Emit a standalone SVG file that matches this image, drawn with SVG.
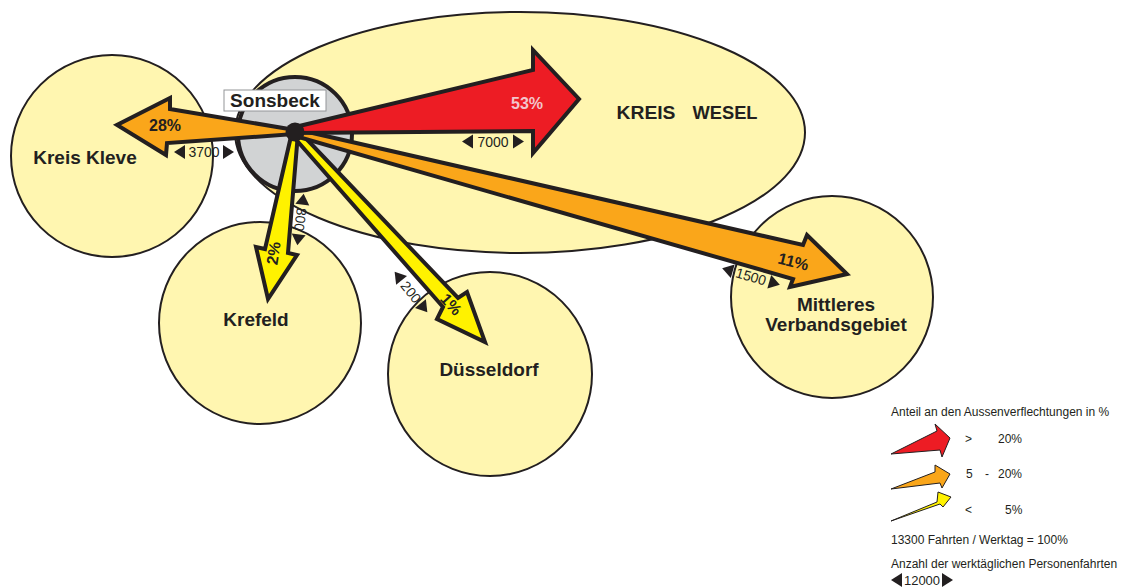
<svg xmlns="http://www.w3.org/2000/svg" xmlns:xlink="http://www.w3.org/1999/xlink" width="1127" height="587" viewBox="0 0 1127 587">
<style>
.region{fill:#fff6b0;stroke:#231f20;stroke-width:2}
.arrow{stroke:#231f20;stroke-width:4;stroke-linejoin:miter;stroke-miterlimit:10}
.larrow{stroke:#231f20;stroke-width:1;stroke-linejoin:miter}
.red{fill:#ed1c24}
.orange{fill:#faa61a}
.yellow{fill:#fff200}
.name{font-family:"Liberation Sans",Arial,sans-serif;font-weight:bold;font-size:19px;fill:#231f20;text-anchor:middle}
.pct{font-family:"Liberation Sans",Arial,sans-serif;font-weight:bold;font-size:16px;fill:#231f20;text-anchor:middle}
.dim{font-family:"Liberation Sans",Arial,sans-serif;font-size:14px;fill:#231f20;text-anchor:middle}
.leg{font-family:"Liberation Sans",Arial,sans-serif;font-size:12px;fill:#231f20}
.tri{fill:#231f20}
</style>
<defs>
<polygon id="triL" points="-6,0 5,-7 5,7"/>
<polygon id="triR" points="6,0 -5,-7 -5,7"/>
</defs>

<g id="kreis-wesel">
<ellipse class="region" cx="520" cy="132.5" rx="285" ry="120.5"/>
<text class="name" font-size="18" x="686" y="119" style="text-anchor:middle"><tspan x="646" textLength="59" lengthAdjust="spacingAndGlyphs">KREIS</tspan><tspan x="725" textLength="65" lengthAdjust="spacingAndGlyphs">WESEL</tspan></text>
</g>
<g id="kreis-kleve">
<circle class="region" cx="112" cy="156" r="101"/>
<text class="name" x="85" y="164">Kreis Kleve</text>
</g>
<g id="krefeld">
<circle class="region" cx="260" cy="323" r="101"/>
<text class="name" x="256" y="326">Krefeld</text>
</g>
<g id="duesseldorf">
<circle class="region" cx="490" cy="374" r="102"/>
<text class="name" x="489" y="376">Düsseldorf</text>
</g>
<g id="mittleres-verbandsgebiet">
<circle class="region" cx="832" cy="297" r="101"/>
<text class="name" x="836" y="311">Mittleres</text>
<text class="name" x="836" y="331">Verbandsgebiet</text>
</g>
<g id="sonsbeck-circle">
<circle cx="295" cy="134" r="57" fill="#d1d3d4" stroke="#231f20" stroke-width="4"/>
</g>

<g id="connectors">
<polygon class="arrow yellow" points="292,132 265,249 256,247 268,299 297,255 288,253 298,133"/>
<polygon class="arrow yellow" points="292,135 443,307 437,319 485,342 467,292 458,298 298,130"/>
<polygon class="arrow orange" points="295,129 803,245 807,235 847,274 790,287 793,279 295,136"/>
<polygon class="arrow orange" points="295,130 170,109 170,98 117,125 166,155 167,143 295,134"/>
<polygon class="arrow red" points="295,127 533,70 533,50 579,99 533,153 533,131 295,133"/>
<circle cx="295" cy="132" r="9.5" fill="#231f20"/>

<text class="pct" x="165" y="131">28%</text>
<text class="pct" x="527" y="109" fill="#f2c6cc" style="fill:#f2c6cc">53%</text>
<text class="pct" transform="translate(792,267) rotate(14)" x="0" y="0">11%</text>
<text class="pct" font-size="15" transform="translate(279,254) rotate(-81)" x="0" y="0">2%</text>
<text class="pct" font-size="15" transform="translate(447,308) rotate(48)" x="0" y="0">1%</text>

<g id="dim-7000" transform="translate(493,141.5)">
<use xlink:href="#triL" href="#triL" class="tri" x="-25" y="0"/>
<text class="dim" x="0" y="5">7000</text>
<use xlink:href="#triR" href="#triR" class="tri" x="25" y="0"/>
</g>
<g id="dim-3700" transform="translate(204,152)">
<use xlink:href="#triL" href="#triL" class="tri" x="-24" y="0"/>
<text class="dim" x="0" y="5">3700</text>
<use xlink:href="#triR" href="#triR" class="tri" x="24" y="0"/>
</g>
<g id="dim-800" transform="translate(300.5,219.5) rotate(97)">
<use xlink:href="#triL" href="#triL" class="tri" x="-20" y="0"/>
<text class="dim" x="0" y="5">800</text>
<use xlink:href="#triR" href="#triR" class="tri" x="20" y="0"/>
</g>
<g id="dim-200" transform="translate(411,292) rotate(51)">
<use xlink:href="#triL" href="#triL" class="tri" x="-20" y="0"/>
<text class="dim" x="0" y="5">200</text>
<use xlink:href="#triR" href="#triR" class="tri" x="20" y="0"/>
</g>
<g id="dim-1500" transform="translate(751,276.5) rotate(16)">
<use xlink:href="#triL" href="#triL" class="tri" x="-24" y="0"/>
<text class="dim" x="0" y="5">1500</text>
<use xlink:href="#triR" href="#triR" class="tri" x="24" y="0"/>
</g>
</g>

<g id="sonsbeck-label">
<rect x="224" y="90" width="102" height="21" fill="#ffffff" stroke="#939598" stroke-width="1"/>
<text class="name" x="275" y="107">Sonsbeck</text>
</g>

<g id="legend">
<text class="leg" x="891" y="416">Anteil an den Aussenverflechtungen in %</text>
<polygon class="larrow red" points="891,454 937,431 935,424 950,438 942,457 940,450"/>
<polygon class="larrow orange" points="891,489 935,472 935,465 950,474 942,488 940,483"/>
<polygon class="larrow yellow" points="891,521 937,502 938,492 951,497 943,507 940,504"/>
<text class="leg" x="965" y="443">&gt;</text>
<text class="leg" x="998" y="443">20%</text>
<text class="leg" x="966" y="478">5</text>
<text class="leg" x="985" y="478">-</text>
<text class="leg" x="998" y="478">20%</text>
<text class="leg" x="965" y="514">&lt;</text>
<text class="leg" x="1005" y="514">5%</text>
<text class="leg" x="891" y="544">13300 Fahrten / Werktag = 100%</text>
<text class="leg" x="891" y="568">Anzahl der werktäglichen Personenfahrten</text>
<g id="dim-12000" transform="translate(922,580)">
<use xlink:href="#triL" href="#triL" class="tri" x="-25" y="0"/>
<text class="dim" font-size="13" style="font-size:13px" x="0" y="5">12000</text>
<use xlink:href="#triR" href="#triR" class="tri" x="25" y="0"/>
</g>
</g>
</svg>
